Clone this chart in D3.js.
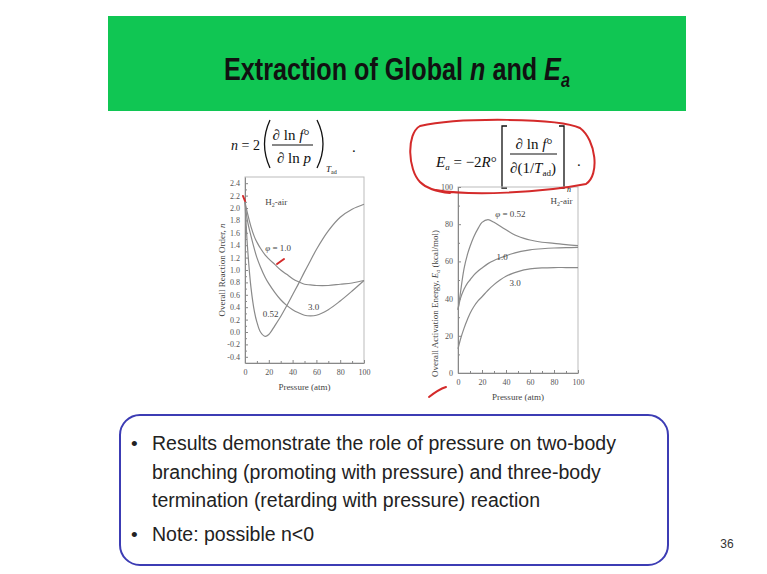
<!DOCTYPE html>
<meta charset="utf-8" />
<head>
<title>Extraction of Global n and Ea</title>
<script src="https://d3js.org/d3.v7.min.js"></script>
<style>
  body { margin: 0; background: #fff; }
  svg { display: block; }
  .curve { fill: none; stroke: #8a8a8a; stroke-width: 1.2px; }
  .lbl { font-family: "Liberation Serif", serif; font-size: 9px; fill: #444; }
  .eq { font-family: "Liberation Serif", serif; fill: #111; }
  .delim { fill: none; stroke: #111; stroke-width: 1.3px; }
  .ink { fill: none; stroke: #d42a2a; stroke-width: 2px; stroke-linecap: round; }
</style>
</head>
<body>
<script>

// ---- data ----
var pressure = [0, 2, 5, 8, 10, 13, 17, 20, 25, 30, 35, 40, 45, 50, 55, 60, 70, 80, 90, 100];

// overall reaction order n
var nPhi052 = [2.1, 1.4, 0.72, 0.32, 0.16, 0.0, -0.07, -0.04, 0.1, 0.25, 0.42, 0.6, 0.78, 0.97, 1.15, 1.33, 1.63, 1.85, 1.98, 2.06];
var nPhi10  = [2.1, 1.92, 1.7, 1.53, 1.45, 1.35, 1.24, 1.18, 1.09, 1.0, 0.93, 0.86, 0.81, 0.77, 0.76, 0.75, 0.75, 0.77, 0.79, 0.83];
var nPhi30  = [2.1, 1.8, 1.55, 1.33, 1.2, 1.05, 0.88, 0.78, 0.64, 0.52, 0.43, 0.36, 0.31, 0.27, 0.26, 0.27, 0.36, 0.5, 0.66, 0.83];

// overall activation energy Ea (kcal/mol)
var eaPhi052 = [34, 43, 56, 64, 68, 73, 78, 81, 82.5, 81, 79, 77, 75, 73.5, 72.4, 71.5, 70.3, 69.7, 69, 68.5];
var eaPhi10  = [34, 40, 45, 48.5, 50, 52.5, 55, 56.5, 58.8, 60.5, 61.8, 63, 64.1, 65, 65.7, 66.2, 66.8, 67.2, 67.4, 67.5];
var eaPhi30  = [13, 18, 24, 29, 32, 35.5, 39, 41, 44.5, 47.5, 50, 52, 53.4, 54.5, 55.4, 56, 56.5, 56.7, 56.7, 56.7];

var nTicks  = [-0.4, -0.2, 0.0, 0.2, 0.4, 0.6, 0.8, 1.0, 1.2, 1.4, 1.6, 1.8, 2.0, 2.2, 2.4];
var eaTicks = [0, 20, 40, 60, 80, 100];
var pTicks  = [0, 20, 40, 60, 80, 100];

var bullets = [
  ["Results demonstrate the role of pressure on two-body",
   "branching (promoting with pressure) and three-body",
   "termination (retarding with pressure) reaction"],
  ["Note: possible n<0"]
];

// ---- page ----
var svg = d3.select("body").append("svg")
    .attr("width", 767)
    .attr("height", 574);

// green title bar
svg.append("rect")
    .attr("x", 108).attr("y", 16)
    .attr("width", 578).attr("height", 95)
    .attr("fill", "#10c653");

// title, squeezed horizontally to look like a narrow face
var titleG = svg.append("g");
var title = titleG.append("text")
    .attr("x", 0).attr("y", 0)
    .attr("text-anchor", "middle")
    .style("font-family", "'Liberation Sans', Arial, sans-serif")
    .style("font-weight", 700)
    .style("font-size", "31px")
    .attr("fill", "#111");
title.append("tspan").text("Extraction of Global ");
title.append("tspan").style("font-style", "italic").text("n");
title.append("tspan").text(" and ");
title.append("tspan").style("font-style", "italic").text("E");
title.append("tspan").style("font-style", "italic").style("font-size", "20px").attr("dy", 7).text("a");
var tw = title.node().getBBox().width;
titleG.attr("transform", "translate(397,80)scale(" + (346 / tw) + ",1)");

// ---- equations ----
var eq = svg.append("g").attr("class", "eq");

// n = 2 ( d ln f / d ln p )_Tad .
eq.append("text").attr("x", 231).attr("y", 150).style("font-size", "14px")
    .html("<tspan font-style='italic'>n</tspan> = 2");
eq.append("path").attr("class", "delim").attr("d", "M270,120 Q259,144 270,168");
eq.append("text").attr("x", 291).attr("y", 140).attr("text-anchor", "middle")
    .style("font-size", "15px")
    .html("\u2202 ln <tspan font-style='italic'>f</tspan>\u00b0");
eq.append("line").attr("x1", 272).attr("x2", 313).attr("y1", 145).attr("y2", 145)
    .attr("stroke", "#111").attr("stroke-width", 1);
eq.append("text").attr("x", 294).attr("y", 163).attr("text-anchor", "middle")
    .style("font-size", "15px")
    .html("\u2202 ln <tspan font-style='italic'>p</tspan>");
eq.append("path").attr("class", "delim").attr("d", "M317,120 Q329,144 317,168");
eq.append("text").attr("x", 326).attr("y", 172).style("font-size", "9px")
    .html("<tspan font-style='italic'>T</tspan><tspan font-size='6px' dy='2'>ad</tspan>");
eq.append("text").attr("x", 352).attr("y", 152).style("font-size", "15px").text(".");

// Ea = -2R [ d ln f / d(1/Tad) ]_n .
eq.append("text").attr("x", 436).attr("y", 167).style("font-size", "15px")
    .html("<tspan font-style='italic'>E</tspan><tspan font-style='italic' font-size='9px' dy='3'>a</tspan><tspan dy='-3'> = \u22122</tspan><tspan font-style='italic'>R</tspan>\u00b0");
eq.append("path").attr("class", "delim").attr("d", "M507,126 L502,126 L502,188 L507,188");
eq.append("text").attr("x", 534).attr("y", 149).attr("text-anchor", "middle")
    .style("font-size", "15px")
    .html("\u2202 ln <tspan font-style='italic'>f</tspan>\u00b0");
eq.append("line").attr("x1", 510).attr("x2", 557).attr("y1", 154).attr("y2", 154)
    .attr("stroke", "#111").attr("stroke-width", 1);
eq.append("text").attr("x", 533).attr("y", 173).attr("text-anchor", "middle")
    .style("font-size", "15px")
    .html("\u2202(1/<tspan font-style='italic'>T</tspan><tspan font-size='9px' dy='3'>ad</tspan><tspan dy='-3'>)</tspan>");
eq.append("path").attr("class", "delim").attr("d", "M559,126 L564,126 L564,188 L559,188");
eq.append("text").attr("x", 567).attr("y", 192).style("font-size", "8px")
    .style("font-style", "italic").text("n");
eq.append("text").attr("x", 577).attr("y", 166).style("font-size", "15px").text(".");

// ---- plotting helper ----
function styleAxis(a) {
  a.select(".domain").attr("stroke", "#888");
  a.selectAll("line").attr("stroke", "#888");
  a.selectAll("text")
      .attr("fill", "#555")
      .style("font-family", "'Liberation Serif', serif")
      .style("font-size", "8px");
}

function panel(xs, ys, yTicks, yMinor, yFmt, series, yLabel) {
  var g = svg.append("g");
  var x0 = xs.range()[0], x1 = xs.range()[1];
  var y0 = ys.range()[0], y1 = ys.range()[1];

  // frame
  g.append("rect")
      .attr("x", x0).attr("y", y1)
      .attr("width", x1 - x0).attr("height", y0 - y1)
      .attr("fill", "none").attr("stroke", "#bbb").attr("stroke-width", 1);

  // minor ticks
  g.append("g").attr("transform", "translate(0," + y0 + ")")
      .call(d3.axisTop(xs).tickValues(d3.range(10, 100, 20)).tickSize(2).tickFormat(""))
      .call(function(a) { a.select(".domain").remove(); a.selectAll("line").attr("stroke", "#888"); });
  g.append("g").attr("transform", "translate(" + x0 + ",0)")
      .call(d3.axisRight(ys).tickValues(yMinor).tickSize(2).tickFormat(""))
      .call(function(a) { a.select(".domain").remove(); a.selectAll("line").attr("stroke", "#888"); });

  // major axes with inward ticks
  g.append("g").attr("transform", "translate(0," + y0 + ")")
      .call(d3.axisBottom(xs).tickValues(pTicks).tickSizeInner(-3).tickSizeOuter(0).tickPadding(6))
      .call(styleAxis);
  g.append("g").attr("transform", "translate(" + x0 + ",0)")
      .call(d3.axisLeft(ys).tickValues(yTicks).tickSizeInner(-3).tickSizeOuter(0).tickPadding(5).tickFormat(yFmt))
      .call(styleAxis);

  var line = d3.line()
      .x(function(d, i) { return xs(pressure[i]); })
      .y(function(d) { return ys(d); })
      .curve(d3.curveCatmullRom);

  series.forEach(function(s) {
    g.append("path").attr("class", "curve").attr("d", line(s));
  });

  // axis titles
  g.append("text").attr("class", "lbl")
      .attr("x", (x0 + x1) / 2).attr("y", y0 + 27)
      .attr("text-anchor", "middle").text("Pressure (atm)");
  g.append("text").attr("class", "lbl")
      .attr("transform", "translate(" + (x0 - 20) + "," + yLabel.y + ")rotate(-90)")
      .attr("text-anchor", yLabel.anchor)
      .html(yLabel.html);
  return g;
}

// left: reaction order
var xL = d3.scaleLinear().domain([0, 100]).range([245, 364]);
var yL = d3.scaleLinear().domain([-0.5, 2.5]).range([363, 177]);
var gL = panel(xL, yL, nTicks, d3.range(-0.3, 2.5, 0.2),
    function(d) { return d3.format(".1f")(d).replace("\u2212", "-"); },
    [nPhi052, nPhi10, nPhi30],
    { y: 270, anchor: "middle", html: "Overall Reaction Order, <tspan font-style='italic'>n</tspan>" });

gL.append("text").attr("class", "lbl").attr("x", xL(17)).attr("y", yL(2.05))
    .html("H<tspan font-size='6px' dy='2'>2</tspan><tspan dy='-2'>-air</tspan>");
gL.append("text").attr("class", "lbl").attr("x", xL(17)).attr("y", yL(1.3))
    .html("<tspan font-style='italic'>\u03c6</tspan> = 1.0");
gL.append("text").attr("class", "lbl").attr("x", xL(53)).attr("y", yL(0.36)).text("3.0");
gL.append("text").attr("class", "lbl").attr("x", xL(15)).attr("y", yL(0.25)).text("0.52");

// right: activation energy
var xR = d3.scaleLinear().domain([0, 100]).range([458, 578]);
var yR = d3.scaleLinear().domain([0, 100]).range([373, 187]);
var gR = panel(xR, yR, eaTicks, d3.range(10, 100, 20),
    function(d) { return d; },
    [eaPhi052, eaPhi10, eaPhi30],
    { y: 377, anchor: "start", html: "Overall Activation Energy, <tspan font-style='italic'>E</tspan><tspan font-style='italic' font-size='6px' dy='2'>a</tspan><tspan dy='-2'> (kcal/mol)</tspan>" });

gR.append("text").attr("class", "lbl").attr("x", xR(77)).attr("y", yR(91))
    .html("H<tspan font-size='6px' dy='2'>2</tspan><tspan dy='-2'>-air</tspan>");
gR.append("text").attr("class", "lbl").attr("x", xR(31)).attr("y", yR(84))
    .html("<tspan font-style='italic'>\u03c6</tspan> = 0.52");
gR.append("text").attr("class", "lbl").attr("x", xR(32)).attr("y", yR(61)).text("1.0");
gR.append("text").attr("class", "lbl").attr("x", xR(43)).attr("y", yR(47)).text("3.0");

// ---- red pen annotations ----
svg.append("path").attr("class", "ink")
    .attr("d", "M436,190 C470,196 540,193 586,184 C600,175 596,140 580,128 C560,118 460,117 420,126 C406,134 408,170 420,182 C428,190 440,192 450,193");
svg.append("path").attr("class", "ink")
    .attr("d", "M429,397 C434,393 440,389 446,387");
svg.append("path").attr("class", "ink")
    .attr("d", "M277,264 L284,259");
svg.append("path").attr("class", "ink").attr("stroke-width", 1.5)
    .attr("d", "M243,196 L245,201");

// ---- bullet box ----
svg.append("rect")
    .attr("x", 120).attr("y", 415)
    .attr("width", 548).attr("height", 150)
    .attr("rx", 20)
    .attr("fill", "none").attr("stroke", "#3c3cb4").attr("stroke-width", 2);

var lineY = 450;
bullets.forEach(function(b) {
  svg.append("text").attr("x", 131).attr("y", lineY)
      .style("font-family", "'Liberation Sans', Arial, sans-serif").style("font-size", "19px")
      .attr("fill", "#222").text("\u2022");
  b.forEach(function(t) {
    svg.append("text").attr("x", 152).attr("y", lineY)
        .style("font-family", "'Liberation Sans', Arial, sans-serif").style("font-size", "19.5px")
        .attr("fill", "#222").text(t);
    lineY += 28.5;
  });
  lineY += 5;
});

// slide number
svg.append("text").attr("x", 727).attr("y", 548)
    .attr("text-anchor", "middle")
    .style("font-family", "'Liberation Sans', Arial, sans-serif").style("font-size", "12px")
    .attr("fill", "#333").text("36");

</script>
</body>
